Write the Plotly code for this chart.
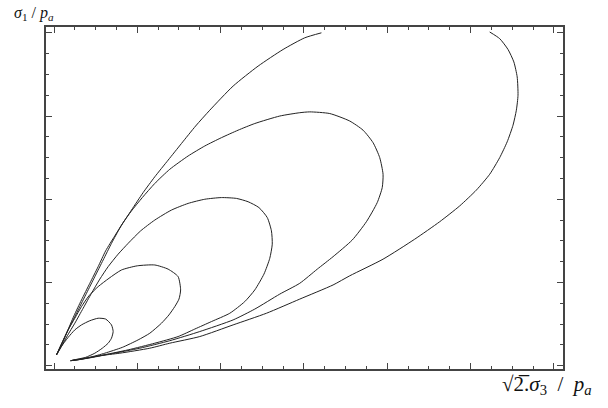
import plotly.graph_objects as go

# loop curves (x = sqrt(2)*sigma3/pa, y = sigma1/pa)
loop1_x = [0.03, 0.08, 0.17, 0.25, 0.33, 0.43, 0.53, 0.62, 0.69, 0.71, 0.69, 0.65, 0.58, 0.49, 0.38, 0.29, 0.20]
loop1_y = [0.13, 0.22, 0.34, 0.43, 0.49, 0.54, 0.57, 0.56, 0.49, 0.41, 0.33, 0.27, 0.21, 0.15, 0.10, 0.08, 0.06]

loop2_x = [0.03, 0.10, 0.17, 0.25, 0.33, 0.42, 0.53, 0.66, 0.81, 1.00, 1.21, 1.37, 1.49, 1.52,
           1.50, 1.45, 1.38, 1.29, 1.15, 1.01, 0.82, 0.61, 0.43, 0.29, 0.20]
loop2_y = [0.13, 0.27, 0.43, 0.57, 0.71, 0.84, 0.95, 1.05, 1.15, 1.20, 1.21, 1.16, 1.07, 0.91,
           0.80, 0.71, 0.61, 0.51, 0.39, 0.31, 0.22, 0.15, 0.10, 0.07, 0.06]

loop3_x = [0.03, 0.09, 0.16, 0.25, 0.35, 0.45, 0.55, 0.65, 0.77, 0.89, 1.04, 1.21, 1.41, 1.61, 1.81,
           2.01, 2.19, 2.33, 2.46, 2.56, 2.61, 2.62, 2.59, 2.52, 2.41, 2.29, 2.11, 1.89, 1.69, 1.49,
           1.21, 0.89, 0.55, 0.34, 0.20]
loop3_y = [0.13, 0.23, 0.36, 0.51, 0.69, 0.87, 1.04, 1.19, 1.34, 1.47, 1.62, 1.75, 1.87, 1.95, 2.00,
           2.02, 2.01, 1.97, 1.90, 1.78, 1.62, 1.46, 1.29, 1.10, 0.91, 0.77, 0.63, 0.53, 0.44, 0.35,
           0.27, 0.19, 0.12, 0.08, 0.06]

loop4_x = [0.03, 0.15, 0.24, 0.33, 0.43, 0.53, 0.62, 0.73, 0.83, 0.93, 1.06, 1.21, 1.39, 1.61, 1.81,
           2.01, 2.21, 2.41, 2.71, 2.95, 3.07, 3.31, 3.55, 3.71, 3.83, 3.91, 3.95, 3.94, 3.88, 3.75,
           3.58, 3.35, 3.16, 2.95, 2.71, 2.41, 2.15, 1.75, 1.39, 1.03, 0.67, 0.41, 0.20]
loop4_y = [0.13, 0.39, 0.60, 0.79, 0.99, 1.19, 1.38, 1.56, 1.72, 1.86, 2.02, 2.19, 2.36, 2.52, 2.64,
           2.74, 2.83, 2.91, 3.00, 3.04, 3.05, 3.03, 2.94, 2.83, 2.68, 2.50, 2.30, 2.14, 1.96, 1.73,
           1.51, 1.31, 1.16, 0.99, 0.86, 0.68, 0.55, 0.41, 0.30, 0.21, 0.14, 0.09, 0.06]

# largest loop leaves the plot range at the top, so it has a gap
loop5_x = [0.03, 0.13, 0.21, 0.29, 0.39, 0.49, 0.59, 0.69, 0.80, 0.93, 1.07, 1.21, 1.37, 1.53, 1.70,
           1.87, 2.15, 2.45, 2.75, 3.01, 3.21, None,
           5.23, 5.35, 5.45, 5.52, 5.56, 5.57, 5.55, 5.51, 5.44, 5.35, 5.23, 5.07, 4.87, 4.63, 4.33,
           3.95, 3.55, 3.35, 2.95, 2.55, 2.15, 1.75, 1.39, 1.15, 0.79, 0.55, 0.37, 0.20]
loop5_y = [0.13, 0.35, 0.51, 0.67, 0.87, 1.07, 1.27, 1.47, 1.67, 1.87, 2.08, 2.27, 2.47, 2.67, 2.88,
           3.07, 3.36, 3.60, 3.80, 3.94, 4.00, None,
           4.01, 3.93, 3.80, 3.65, 3.47, 3.25, 3.07, 2.89, 2.69, 2.50, 2.30, 2.11, 1.92, 1.73, 1.52,
           1.28, 1.08, 0.97, 0.80, 0.63, 0.49, 0.35, 0.27, 0.21, 0.15, 0.12, 0.09, 0.06]

loops = [(loop1_x, loop1_y), (loop2_x, loop2_y), (loop3_x, loop3_y),
         (loop4_x, loop4_y), (loop5_x, loop5_y)]

fig = go.Figure()
for lx, ly in loops:
    fig.add_trace(go.Scatter(x=lx, y=ly, mode='lines',
                             line=dict(color='#222222', width=1, shape='spline', smoothing=0.6),
                             showlegend=False, hoverinfo='skip'))

frame_col = '#444444'
axis_style = dict(showgrid=False, zeroline=False, showticklabels=False,
                  showline=True, linecolor=frame_col, linewidth=1.5, mirror='ticks',
                  ticks='inside', ticklen=6, tickwidth=1, tickcolor=frame_col,
                  tick0=0, dtick=1,
                  minor=dict(ticks='inside', ticklen=3, dtick=0.25, tickcolor=frame_col, showgrid=False))

fig.update_xaxes(range=[-0.096, 6.11], **axis_style)
fig.update_yaxes(range=[-0.04, 4.07], **axis_style)

fig.add_annotation(text='<i>σ</i><sub>1</sub> / <i>p</i><sub><i>a</i></sub>',
                   xref='paper', yref='paper', x=-0.066, y=1.006,
                   xanchor='left', yanchor='bottom', showarrow=False,
                   font=dict(family='Liberation Serif', size=16, color='#111111'))
fig.add_annotation(text='√2̅.<i>σ</i><sub>3</sub>  /  <i>p</i><sub><i>a</i></sub>',
                   xref='paper', yref='paper', x=0.878, y=-0.047,
                   xanchor='left', yanchor='middle', showarrow=False,
                   font=dict(family='Liberation Serif', size=21, color='#111111'))

fig.update_layout(width=608, height=408,
                  margin=dict(l=46, r=45, t=27, b=39),
                  plot_bgcolor='white', paper_bgcolor='white')

# drop the default body margin so the figure sits at the page corner
fig.write_html("out.html", config={'displayModeBar': False},
               post_script="document.body.style.margin = '0';")
